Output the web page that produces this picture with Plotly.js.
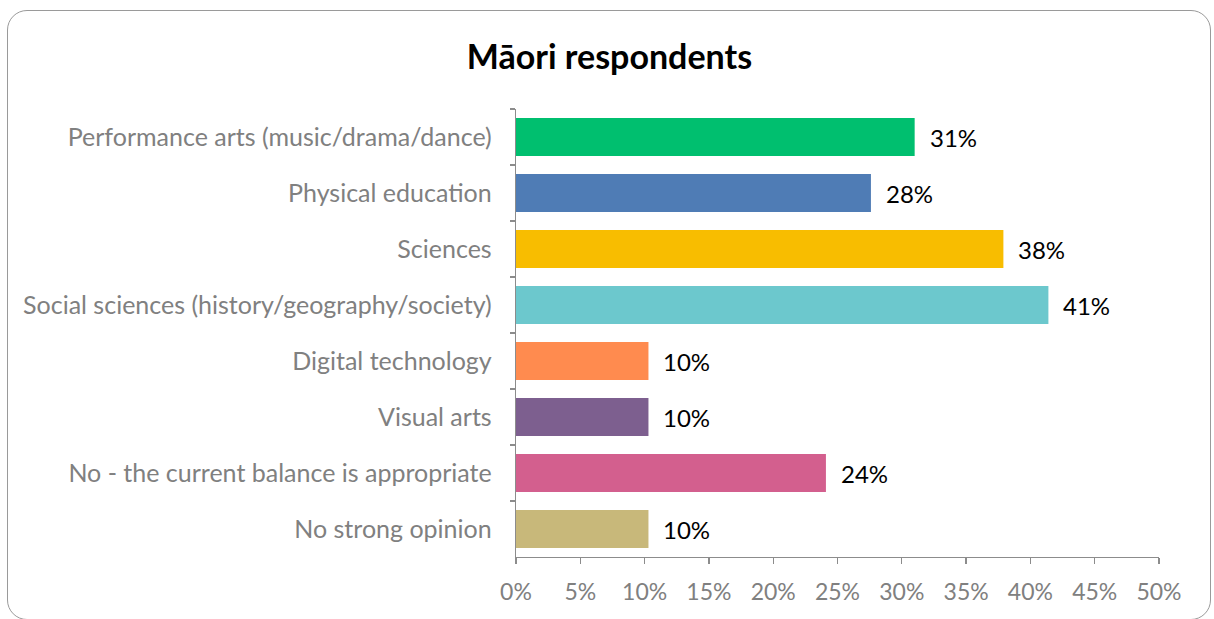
<!DOCTYPE html>
<html>
<head>
<meta charset="utf-8">
<script src="https://cdn.plot.ly/plotly-3.0.1.min.js"></script>
<style>
  html, body { margin: 0; padding: 0; background: #fff; }
  #frame { position: absolute; left: 7px; top: 10px; width: 1202px; height: 608px;
           border: 1.3px solid #9a9a9a; border-radius: 20px; }
  #chart { position: absolute; left: 0; top: 0; width: 1214px; height: 619px; }
</style>
</head>
<body>
<div id="frame"></div>
<div id="chart"></div>
<script>
const categories = [
  "Performance arts (music/drama/dance)",
  "Physical education",
  "Sciences",
  "Social sciences (history/geography/society)",
  "Digital technology",
  "Visual arts",
  "No - the current balance is appropriate",
  "No strong opinion"
];
const values = [31.0, 27.6, 37.9, 41.4, 10.3, 10.3, 24.1, 10.3];
const labels = ["31%", "28%", "38%", "41%", "10%", "10%", "24%", "10%"];
const colors = ["#00BF6F", "#4F7CB5", "#F8BD00", "#6CC8CD", "#FF8B4F", "#7D5F8F", "#D35F8E", "#C8B87A"];
const xTicks = [0, 5, 10, 15, 20, 25, 30, 35, 40, 45, 50];
const xTickText = ["0%", "5%", "10%", "15%", "20%", "25%", "30%", "35%", "40%", "45%", "50%"];

const FONT = "Lato, 'Open Sans', sans-serif";

const trace = {
  type: "bar",
  orientation: "h",
  y: categories,
  x: values,
  marker: { color: colors, line: { width: 0 } },
  hoverinfo: "skip"
};

const annotations = categories.map((c, i) => ({
  x: values[i], y: c, xref: "x", yref: "y",
  text: labels[i], showarrow: false,
  xanchor: "left", yanchor: "middle", xshift: 13,
  font: { family: FONT, size: 24, color: "#000" }
}));

const layout = {
  width: 1214, height: 619,
  margin: { l: 516, r: 55, t: 109, b: 62, pad: 0 },
  paper_bgcolor: "rgba(0,0,0,0)",
  plot_bgcolor: "rgba(0,0,0,0)",
  showlegend: false,
  bargap: 0.32,
  title: {
    text: "<b>Māori respondents</b>",
    font: { family: FONT, size: 34, color: "#000" },
    x: 0.502, xanchor: "center", y: 0.908, yanchor: "middle"
  },
  xaxis: {
    range: [0, 50],
    tickvals: xTicks, ticktext: xTickText,
    showgrid: false, zeroline: false,
    showline: true, linecolor: "#8c8c8c", linewidth: 1.3,
    ticks: "outside", ticklen: 6, tickcolor: "#8c8c8c", tickwidth: 1.3,
    tickfont: { family: FONT, size: 23, color: "#808080" },
    ticklabelstandoff: 8,
    fixedrange: true
  },
  yaxis: {
    type: "category",
    categoryorder: "array", categoryarray: categories,
    autorange: "reversed",
    tickson: "boundaries",
    showgrid: false, zeroline: false,
    showline: true, linecolor: "#8c8c8c", linewidth: 1.3,
    ticks: "outside", ticklen: 5, tickcolor: "#8c8c8c", tickwidth: 1.3,
    tickfont: { family: FONT, size: 25, color: "#808080" },
    ticklabelstandoff: 18,
    fixedrange: true
  },
  annotations: annotations
};

Plotly.newPlot("chart", [trace], layout, { displayModeBar: false, staticPlot: true });
</script>
</body>
</html>
